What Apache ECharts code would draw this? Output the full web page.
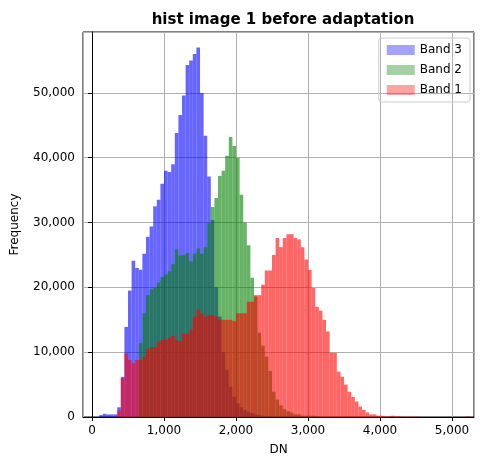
<!DOCTYPE html>
<html>
<head>
<meta charset="utf-8">
<script src="https://cdn.jsdelivr.net/npm/echarts@6/dist/echarts.min.js"></script>
<style>html,body{margin:0;padding:0;background:#fff}#main{width:480px;height:470px}</style>
</head>
<body>
<div id="main"></div>
<script>
var binWidth = 50;
var band3Start = 100;
var band3 = [300,500,400,400,400,1500,6200,13900,19500,24100,23000,22700,25200,27800,29400,32500,33500,36000,38000,37800,39000,43800,46600,49600,54300,55000,56000,57000,50000,43400,37100,30400,20000,15500,10000,7300,4700,3100,2100,1500,1100,800,600,400,300,200,100,100];
var band2Start = 650;
var band2 = [11400,16000,18800,19700,19900,20700,21600,22000,22500,23600,25900,24900,25000,25300,24000,25200,26000,25200,26200,29900,32400,33800,37200,38000,40300,43200,41800,40000,34300,30000,26500,21500,18600,13000,11000,9300,7100,3900,2700,1800,1200,900,700,400,400,200,200,200,200,100];
var band1Start = 350;
var band1 = [1000,6000,9800,8800,8300,8800,8800,9300,10500,10800,10800,11600,11900,11900,12200,12500,11900,11700,12800,12800,13500,15500,16600,16000,15500,15700,15700,15500,15000,15000,15000,15000,14800,16000,16000,16000,17800,17800,18800,18800,20400,22600,22600,25000,27600,26200,27600,28200,28200,27600,27400,26200,24300,22700,19900,17000,16400,15000,13200,9900,9900,7000,6200,5000,3900,3100,2400,1600,1100,700,400,400,200,200,100,100,200,100,100,50,50,50,50,50,0,0,0,0,0,0,0,0,0,0,0,0,0,100];

function toPairs(start, counts) {
    return counts.map(function (c, i) { return [start + i * binWidth, c]; });
}

function renderBar(params, api) {
    var p0 = api.coord([api.value(0), api.value(1)]);
    var p1 = api.coord([api.value(0) + binWidth, 0]);
    return {
        type: 'rect',
        shape: { x: p0[0], y: p0[1], width: p1[0] - p0[0], height: p1[1] - p0[1] },
        style: api.style()
    };
}

function histSeries(name, color, start, counts) {
    return {
        name: name,
        type: 'custom',
        renderItem: renderBar,
        itemStyle: { color: color, opacity: 0.6 },
        encode: { x: 0, y: 1 },
        data: toPairs(start, counts)
    };
}

var myChart = echarts.init(document.getElementById('main'));
var option = {
    animation: false,
    title: {
        text: 'hist image 1 before adaptation',
        left: 278, top: 8, textAlign: 'center',
        textStyle: { fontFamily: 'DejaVu Sans', fontSize: 15, fontWeight: 'bold', color: '#000' }
    },
    legend: {
        orient: 'vertical', right: 10, top: 38,
        data: [
            { name: 'Band 3', icon: 'rect', itemStyle: { color: 'rgba(0,0,255,0.6)' } },
            { name: 'Band 2', icon: 'rect', itemStyle: { color: 'rgba(0,128,0,0.6)' } },
            { name: 'Band 1', icon: 'rect', itemStyle: { color: 'rgba(255,0,0,0.6)' } }
        ],
        itemWidth: 28, itemHeight: 10, itemGap: 8,
        borderColor: '#ccc', borderWidth: 1, borderRadius: 3, padding: [6, 8],
        textStyle: { fontFamily: 'DejaVu Sans', fontSize: 12, color: '#000' }
    },
    grid: { left: 83, right: 6, top: 32, bottom: 53, show: true, borderColor: '#000', borderWidth: 1 },
    xAxis: {
        type: 'value', min: -125, max: 5305, splitNumber: 5,
        name: 'DN', nameLocation: 'middle', nameGap: 27,
        nameTextStyle: { fontFamily: 'DejaVu Sans', fontSize: 12, color: '#000' },
        axisLine: { lineStyle: { color: '#000' } },
        axisTick: { show: true, length: 4, lineStyle: { color: '#000' } },
        axisLabel: { showMinLabel: false, showMaxLabel: false, fontFamily: 'DejaVu Sans', fontSize: 12, color: '#000' },
        splitLine: { lineStyle: { color: '#b0b0b0' } }
    },
    yAxis: {
        type: 'value', min: 0, max: 59400, interval: 10000,
        name: 'Frequency', nameLocation: 'middle', nameGap: 62,
        nameTextStyle: { fontFamily: 'DejaVu Sans', fontSize: 12, color: '#000' },
        axisLine: { show: true, lineStyle: { color: '#000' } },
        axisTick: { show: true, length: 4, lineStyle: { color: '#000' } },
        axisLabel: { showMaxLabel: false, fontFamily: 'DejaVu Sans', fontSize: 12, color: '#000' },
        splitLine: { lineStyle: { color: '#b0b0b0' } }
    },
    series: [
        histSeries('Band 3', '#0000ff', band3Start, band3),
        histSeries('Band 2', '#008000', band2Start, band2),
        histSeries('Band 1', '#ff0000', band1Start, band1)
    ]
};
myChart.setOption(option, true);
</script>
</body>
</html>
